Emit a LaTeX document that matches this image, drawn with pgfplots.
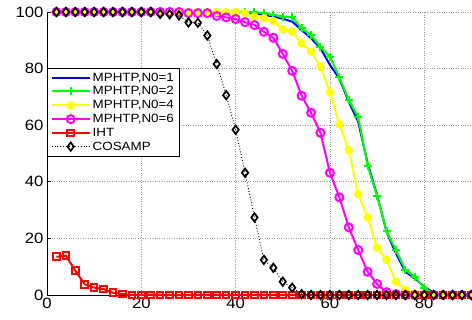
\documentclass[border=0pt]{standalone}
\usepackage{fontspec}
\setmainfont{Liberation Sans}[FakeStretch=1.12]
\usepackage{pgfplots}
\pgfplotsset{compat=1.18}
\definecolor{mblue}{RGB}{0,0,255}
\definecolor{mgreen}{RGB}{0,255,0}
\definecolor{myellow}{RGB}{255,255,0}
\definecolor{mmagenta}{RGB}{255,0,255}
\definecolor{mred}{RGB}{255,0,0}
\begin{document}
\begin{tikzpicture}
\useasboundingbox (-47bp,-25bp) rectangle (425bp,295bp);
\begin{axis}[
  at={(0,0)}, anchor=south west,
  scale only axis, width=424.4bp, height=283bp,
  xmin=0, xmax=90, ymin=0, ymax=100,
  xtick={0,20,...,80}, ytick={0,20,...,100},
  grid=major, major grid style={dotted, gray!80, line width=0.7bp},
  axis x line*=bottom, axis y line*=left,
  axis line style={-, line width=0.8bp},
  tick style={black, line width=0.6bp}, major tick length=4bp, tick align=inside,
  ticklabel style={font=\fontsize{15}{15}\selectfont},
  /pgf/number format/assume math mode=true,
  clip=false,
  legend style={at={(0,0.802)}, anchor=north west, draw=black,
    font=\fontsize{12}{13}\selectfont, inner xsep=3.5bp, inner ysep=2.5bp},
  legend cell align=left,
  legend image code/.code={\draw[mark repeat=2,mark phase=2] plot coordinates {(0bp,0bp) (19bp,0bp) (38bp,0bp)};},
]
\addplot[color=mblue, line width=2bp] coordinates {
(2,100)(4,100)(6,100)(8,100)(10,100)(12,100)(14,100)(16,100)(18,100)(20,100)
(22,100)(24,100)(26,100)(28,100)(30,100)(32,100)(34,100)(36,100)(38,100)(40,100)
(42,99.8)(44,99.5)(46,99.0)(48,98.4)(50,97.6)(52,96.6)(54,93.6)(56,90.7)(58,87.2)(60,81.3)
(62,76.5)(64,68.3)(66,61.2)(68,46.5)(70,35.3)(72,22.4)(74,14.7)(76,8.2)(78,5.9)(80,2.9)
(82,0.8)(84,0)(86,0)(88,0)(90,0)};
\addlegendentry{MPHTP,N0=1}
\addplot[color=mgreen, line width=2bp, mark=+, mark size=4bp] coordinates {
(2,100)(4,100)(6,100)(8,100)(10,100)(12,100)(14,100)(16,100)(18,100)(20,100)
(22,100)(24,100)(26,100)(28,100)(30,100)(32,100)(34,100)(36,100)(38,100)(40,100)
(42,100)(44,100)(46,99.6)(48,99.0)(50,98.4)(52,98.2)(54,94.2)(56,91.8)(58,87.7)(60,84.2)
(62,76.9)(64,68.9)(66,62.8)(68,45.6)(70,35.0)(72,22.6)(74,15.9)(76,8.8)(78,6.5)(80,2.4)
(82,0.5)(84,0)(86,0)(88,0)(90,0)};
\addlegendentry{MPHTP,N0=2}
\addplot[color=myellow, line width=2bp, mark=*, mark size=3.2bp, mark options={fill=myellow}] coordinates {
(2,100)(4,100)(6,100)(8,100)(10,100)(12,100)(14,100)(16,100)(18,100)(20,100)
(22,100)(24,100)(26,100)(28,100)(30,100)(32,100)(34,100)(36,100)(38,100)(40,100)
(42,99.5)(44,98.4)(46,97.8)(48,96.8)(50,93.9)(52,93.1)(54,88.9)(56,86.0)(58,80.7)(60,71.6)
(62,60.3)(64,51.2)(66,35.6)(68,27.4)(70,16.7)(72,12.4)(74,4.7)(76,1.8)(78,0.5)(80,0)
(82,0)(84,0)(86,0)(88,0)(90,0)};
\addlegendentry{MPHTP,N0=4}
\addplot[color=mmagenta, line width=2bp, mark=o, mark size=4bp] coordinates {
(2,100)(4,100)(6,100)(8,100)(10,100)(12,100)(14,100)(16,100)(18,100)(20,100)
(22,100)(24,100)(26,100)(28,100)(30,99.6)(32,99.6)(34,99.6)(36,98.6)(38,98.1)(40,97.5)
(42,96.4)(44,95.4)(46,93.0)(48,90.9)(50,85.2)(52,79.2)(54,70.4)(56,64.4)(58,57.3)(60,43.2)
(62,34.5)(64,23.9)(66,15.9)(68,8.2)(70,3.9)(72,1.0)(74,0.3)(76,0)(78,0)(80,0)
(82,0)(84,0)(86,0)(88,0)(90,0)};
\addlegendentry{MPHTP,N0=6}
\addplot[color=mred, line width=2bp, mark=square, mark size=3.3bp] coordinates {
(2,13.5)(4,13.9)(6,8.6)(8,3.8)(10,2.6)(12,2.1)(14,0.8)(16,0.35)(18,0)(20,0)
(22,0)(24,0)(26,0)(28,0)(30,0)(32,0)(34,0)(36,0)(38,0)(40,0)
(42,0)(44,0)(46,0)(48,0)(50,0)(52,0)(54,0)(56,0)(58,0)(60,0)
(62,0)(64,0)(66,0)(68,0)(70,0)(72,0)(74,0)(76,0)(78,0)(80,0)
(82,0)(84,0)(86,0)(88,0)(90,0)};
\addlegendentry{IHT}
\addplot[color=black, line width=0.9bp, dotted, mark=diamond, mark size=4.2bp, mark options={solid, line width=1.7bp}] coordinates {
(2,100)(4,100)(6,100)(8,100)(10,100)(12,100)(14,100)(16,100)(18,100)(20,100)
(22,100)(24,99.3)(26,99.2)(28,98.8)(30,96.3)(32,96.2)(34,91.7)(36,81.6)(38,70.6)(40,58.4)
(42,43.2)(44,27.4)(46,12.4)(48,9.6)(50,4.7)(52,2.6)(54,0.3)(56,0)(58,0)(60,0)
(62,0)(64,0)(66,0)(68,0)(70,0)(72,0)(74,0)(76,0)(78,0)(80,0)
(82,0)(84,0)(86,0)(88,0)(90,0)};
\addlegendentry{COSAMP}
\end{axis}
\end{tikzpicture}
\end{document}
